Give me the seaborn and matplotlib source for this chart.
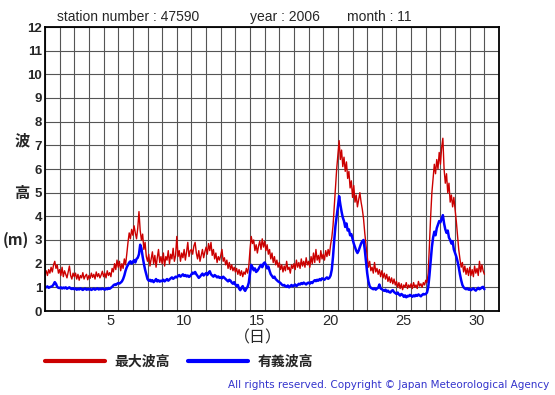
import numpy as np
import pandas as pd
import matplotlib
matplotlib.use("Agg")
import matplotlib.pyplot as plt
import seaborn as sns

# wave heights (m), one value every 2 hours, one row per day (1-30 Nov 2006)
max_wave = [
    1.55, 1.70, 1.50, 1.75, 1.60, 1.85, 1.65, 1.95, 2.10, 1.80, 1.95, 1.60,
    1.75, 1.50, 1.85, 1.45, 1.70, 1.55, 1.40, 1.65, 1.90, 1.50, 1.35, 1.60,
    1.45, 1.60, 1.35, 1.55, 1.30, 1.50, 1.40, 1.62, 1.35, 1.48, 1.55, 1.32,
    1.50, 1.38, 1.60, 1.42, 1.55, 1.35, 1.65, 1.45, 1.58, 1.40, 1.52, 1.68,
    1.45, 1.60, 1.40, 1.70, 1.50, 1.62, 1.45, 1.80, 1.65, 2.00, 1.75, 2.15,
    1.85, 2.10, 1.70, 2.00, 1.80, 2.20, 1.95, 2.40, 2.90, 3.30, 3.05, 3.45,
    3.20, 3.60, 3.30, 3.05, 3.50, 4.20, 3.40, 3.00, 3.25, 2.60, 2.90, 2.30,
    2.10, 2.40, 1.90, 2.20, 2.50, 2.00, 2.35, 1.85, 2.25, 2.60, 2.05, 2.30,
    2.00, 2.45, 1.90, 2.30, 2.15, 2.55, 2.00, 2.40, 2.20, 2.65, 2.10, 2.35,
    3.15, 2.30, 2.55, 2.10, 2.45, 2.25, 2.60, 2.15, 2.50, 2.90, 2.30, 2.55,
    2.60, 2.40, 2.75, 2.90, 2.45, 2.20, 2.55, 2.10, 2.35, 2.60, 2.25, 2.50,
    2.70, 2.40, 2.85, 2.55, 2.90, 2.35, 2.60, 2.20, 2.45, 2.05, 2.30, 2.15,
    2.35, 2.60, 2.10, 2.25, 1.95, 2.15, 1.80, 2.05, 1.75, 1.95, 1.70, 1.85,
    1.65, 1.80, 1.55, 1.75, 1.50, 1.70, 1.45, 1.65, 1.55, 1.80, 1.60, 1.90,
    2.60, 3.15, 2.85, 3.00, 2.55, 2.80, 2.45, 2.75, 2.95, 2.60, 3.05, 2.70,
    2.95, 2.55, 2.80, 2.40, 2.60, 2.20, 2.45, 2.05, 2.30, 1.95, 2.15, 1.85,
    2.05, 1.75, 1.95, 1.65, 1.90, 1.70, 2.10, 1.75, 1.85, 1.60, 1.95, 1.80,
    2.00, 1.75, 2.15, 1.85, 2.05, 1.80, 2.20, 1.90, 2.10, 1.85, 2.25, 1.95,
    2.10, 1.85, 2.30, 2.00, 2.45, 2.05, 2.60, 2.15, 2.35, 2.05, 2.55, 2.20,
    2.40, 2.15, 2.55, 2.30, 2.60, 2.35, 2.80, 3.10, 3.60, 4.40, 5.20, 6.00,
    6.60, 7.20, 6.40, 6.80, 6.10, 6.50, 5.90, 6.30, 5.60, 5.90, 5.20, 5.50,
    4.80, 5.30, 4.60, 4.90, 4.40, 4.70, 5.00, 4.60, 4.30, 3.90, 3.30, 2.80,
    2.30, 1.85, 2.10, 1.70, 1.85, 1.60, 2.05, 1.65, 1.80, 1.55, 1.75, 1.45,
    1.70, 1.40, 1.60, 1.35, 1.55, 1.25, 1.45, 1.20, 1.40, 1.15, 1.35, 1.10,
    1.25, 1.00, 1.20, 0.95, 1.15, 0.90, 1.10, 1.00, 1.20, 0.95, 1.10, 1.00,
    1.15, 0.95, 1.20, 1.00, 1.10, 0.95, 1.25, 1.05, 1.15, 1.00, 1.20, 1.10,
    1.30, 1.20, 1.60, 2.80, 4.00, 5.00, 5.60, 6.20, 5.80, 6.40, 6.00, 6.70,
    6.20, 6.90, 7.30, 6.00, 5.40, 5.80, 5.00, 5.40, 4.60, 4.90, 4.40, 4.80,
    4.30, 3.80, 3.20, 2.60, 2.20, 1.85, 2.05, 1.65, 1.90, 1.55, 1.80, 1.50,
    1.85, 1.50, 1.75, 1.45, 1.90, 1.60, 1.80, 1.50, 2.10, 1.65, 1.95, 1.70,
    1.55,
]

sig_wave = [
    1.02, 1.00, 1.04, 0.98, 1.01, 1.03, 1.05, 1.12, 1.22, 1.15, 1.02, 0.98,
    0.97, 1.00, 0.95, 0.99, 0.96, 1.00, 0.94, 0.97, 1.00, 0.95, 0.93, 0.96,
    0.92, 0.95, 0.90, 0.94, 0.91, 0.96, 0.92, 0.89, 0.93, 0.95, 0.90, 0.93,
    0.91, 0.94, 0.89, 0.92, 0.95, 0.90, 0.93, 0.96, 0.91, 0.94, 0.92, 0.95,
    0.93, 0.90, 0.95, 0.92, 0.97, 0.94, 0.98, 1.02, 1.08, 1.12, 1.10, 1.15,
    1.18, 1.16, 1.20, 1.25, 1.35, 1.50, 1.70, 1.85, 1.95, 2.05, 2.10, 2.00,
    2.08, 2.15, 2.05, 2.20, 2.25, 2.40, 2.80, 2.65, 2.30, 2.00, 1.75, 1.55,
    1.35, 1.28, 1.32, 1.25, 1.30, 1.22, 1.28, 1.35, 1.25, 1.30, 1.24, 1.28,
    1.26, 1.32, 1.25, 1.30, 1.35, 1.28, 1.33, 1.38, 1.42, 1.36, 1.40, 1.45,
    1.42, 1.48, 1.52, 1.45, 1.50, 1.55, 1.48, 1.52, 1.46, 1.50, 1.44, 1.48,
    1.55, 1.62, 1.58, 1.65, 1.55, 1.48, 1.40, 1.45, 1.52, 1.58, 1.50, 1.55,
    1.60, 1.52, 1.62, 1.68, 1.55, 1.50, 1.45, 1.52, 1.48, 1.42, 1.46, 1.40,
    1.42, 1.38, 1.45, 1.40, 1.35, 1.30, 1.25, 1.32, 1.28, 1.20, 1.15, 1.22,
    1.12, 1.05, 1.10, 0.95, 0.88, 0.98, 1.05, 0.92, 0.85, 0.95, 1.02, 1.20,
    1.60, 1.95, 1.85, 1.72, 1.80, 1.65, 1.70, 1.78, 1.88, 1.95, 1.85, 2.00,
    2.05, 1.95, 1.80, 1.88, 1.70, 1.55, 1.48, 1.40, 1.45, 1.35, 1.30, 1.25,
    1.22, 1.18, 1.12, 1.08, 1.10, 1.05, 1.02, 1.08, 1.00, 1.05, 1.10, 1.04,
    1.08, 1.12, 1.05, 1.10, 1.15, 1.12, 1.18, 1.14, 1.20, 1.16, 1.12, 1.18,
    1.20, 1.15, 1.22, 1.18, 1.25, 1.30, 1.26, 1.32, 1.28, 1.35, 1.30, 1.38,
    1.35, 1.32, 1.38, 1.42, 1.36, 1.40, 1.50, 1.75, 2.30, 3.00, 3.60, 4.00,
    4.40, 4.85, 4.50, 4.20, 3.95, 3.80, 3.55, 3.70, 3.40, 3.45, 3.20, 3.25,
    3.05, 2.85, 2.70, 2.55, 2.45, 2.55, 2.70, 2.85, 2.95, 3.00, 2.60, 2.10,
    1.60, 1.25, 1.05, 0.98, 0.95, 0.92, 0.96, 0.90, 0.95, 0.98, 1.12, 0.95,
    0.92, 0.88, 0.85, 0.90, 0.82, 0.86, 0.80, 0.78, 0.85, 0.88, 0.80, 0.76,
    0.72, 0.78, 0.70, 0.65, 0.72, 0.68, 0.60, 0.66, 0.58, 0.64, 0.62, 0.68,
    0.65, 0.60, 0.66, 0.62, 0.68, 0.64, 0.70, 0.66, 0.62, 0.68, 0.72, 0.70,
    0.72, 0.78, 1.00, 1.50, 2.10, 2.70, 3.10, 3.35, 3.20, 3.50, 3.65, 3.80,
    3.75, 3.90, 4.05, 3.70, 3.45, 3.30, 3.40, 3.10, 3.00, 2.85, 2.95, 2.60,
    2.45, 2.30, 2.10, 1.85, 1.55, 1.30, 1.10, 1.00, 0.95, 0.92, 0.96, 0.90,
    0.94, 0.88, 0.92, 0.96, 0.90, 0.86, 0.93, 0.98, 0.92, 0.95, 1.00, 1.02,
    0.92,
]

day_labels = [5, 10, 15, 20, 25, 30]

sns.set_theme(style="white")
plt.rcParams["font.family"] = ["Liberation Sans", "Noto Sans CJK JP", "DejaVu Sans"]

df = pd.DataFrame({
    "day": np.arange(len(max_wave)) / 12.0,
    "最大波高": max_wave,
    "有義波高": sig_wave,
})

fig = plt.figure(figsize=(5.55, 3.95), dpi=100)
ax = fig.add_axes([45 / 555, 1 - 311 / 395, 454 / 555, 284 / 395])

sns.lineplot(data=df, x="day", y="最大波高", color="#cc0000", lw=1.0,
             ax=ax, label="最大波高")
sns.lineplot(data=df, x="day", y="有義波高", color="#0000ff", lw=1.8,
             ax=ax, label="有義波高")

ax.set_xlim(0, 31)
ax.set_ylim(0, 12)
ax.set_xticks(np.arange(0, 32))
ax.set_xticklabels([])
ax.set_xticks([d - 0.5 for d in day_labels], minor=True)
ax.set_xticklabels([str(d) for d in day_labels], minor=True, fontsize=10.5)
ax.set_yticks(np.arange(0, 13))
ax.set_yticklabels([str(v) for v in range(13)], fontsize=9.5, fontweight="bold")
ax.tick_params(which="both", length=0, pad=2)
ax.grid(True, which="major", color="#555555", lw=0.8)
ax.set_xlabel("")
ax.set_ylabel("")
for s in ax.spines.values():
    s.set_color("black")
    s.set_linewidth(1.3)

leg = ax.legend(loc="center left", bbox_to_anchor=(45 / 555, 1 - 362 / 395),
                bbox_transform=fig.transFigure, ncol=2, frameon=False,
                handlelength=4.3, handletextpad=0.7, columnspacing=1.3,
                borderpad=0, borderaxespad=0,
                prop={"family": "Noto Sans CJK JP", "weight": "bold", "size": 10})
for h in leg.get_lines():
    h.set_linewidth(3)

cjk = ["Noto Sans CJK JP", "DejaVu Sans"]
fig.text(22 / 555, 1 - 140 / 395, "波", family=cjk, fontsize=11, fontweight="bold",
         ha="center", va="center")
fig.text(22 / 555, 1 - 193 / 395, "高", family=cjk, fontsize=11, fontweight="bold",
         ha="center", va="center")
fig.text(16 / 555, 1 - 240 / 395, "(m)", family=cjk, fontsize=11, fontweight="bold",
         ha="center", va="center")
fig.text(258 / 555, 1 - 338 / 395, "（日）", family=cjk, fontsize=11.5,
         ha="center", va="center")

fig.text(57 / 555, 1 - 17 / 395, "station number : 47590", fontsize=10,
         ha="left", va="center")
fig.text(250 / 555, 1 - 17 / 395, "year : 2006", fontsize=10, ha="left", va="center")
fig.text(347 / 555, 1 - 17 / 395, "month : 11", fontsize=10, ha="left", va="center")

fig.text(549 / 555, 1 - 385 / 395,
         "All rights reserved. Copyright © Japan Meteorological Agency",
         color="#3333cc", fontsize=7.5, family="DejaVu Sans", ha="right", va="center")

fig.savefig("out.png", dpi=100)
